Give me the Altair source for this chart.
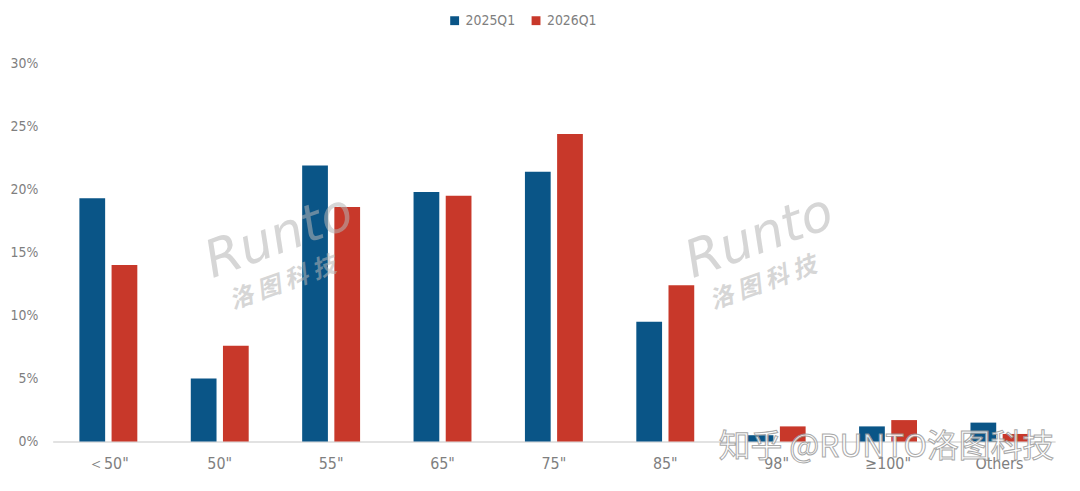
import altair as alt
import pandas as pd

categories = ["＜50\"", "50\"", "55\"", "65\"", "75\"", "85\"", "98\"", "≥100\"", "Others"]
series = ["2025Q1", "2026Q1"]
values_2025 = [19.3, 5.0, 21.9, 19.8, 21.4, 9.5, 0.5, 1.2, 1.5]
values_2026 = [14.0, 7.6, 18.6, 19.5, 24.4, 12.4, 1.2, 1.7, 0.6]
colors = ["#0A5587", "#C8382A"]
y_ticks = [0, 5, 10, 15, 20, 25, 30]

rows = []
for c, a, b in zip(categories, values_2025, values_2026):
    rows.append({"cat": c, "series": series[0], "v": a / 100})
    rows.append({"cat": c, "series": series[1], "v": b / 100})
df = pd.DataFrame(rows)

FONT = "DejaVu Sans Condensed, Roboto, sans-serif"
W, H = 1010, 381

bars = alt.Chart(df).mark_bar().encode(
    x=alt.X("cat:N", sort=categories, title=None,
            scale=alt.Scale(paddingInner=0.48, paddingOuter=0.24),
            axis=alt.Axis(labelAngle=0, labelFontSize=16, labelColor="#7f7f7f",
                          labelFont=FONT, domainColor="#d9d9d9", domainWidth=1.5,
                          ticks=False, labelPadding=14)),
    xOffset=alt.XOffset("series:N", sort=series,
                        scale=alt.Scale(paddingInner=0.2, paddingOuter=0)),
    y=alt.Y("v:Q", title=None,
            scale=alt.Scale(domain=[0, 0.30], nice=False),
            axis=alt.Axis(values=[t / 100 for t in y_ticks], format=".0%",
                          grid=False, domain=False, ticks=False,
                          labelFontSize=14, labelColor="#7f7f7f", labelFont=FONT,
                          labelPadding=15)),
    color=alt.Color("series:N", sort=series,
                    scale=alt.Scale(domain=series, range=colors),
                    legend=alt.Legend(title=None, orient="none", legendX=398, legendY=-50,
                                      direction="horizontal", symbolType="square",
                                      symbolSize=80, labelFontSize=14, labelColor="#7f7f7f",
                                      labelFont=FONT, columnPadding=14, symbolStrokeWidth=0)),
)

def wm(text, size, x, y, font, weight="normal"):
    return alt.Chart(pd.DataFrame({"t": [text]})).mark_text(
        fontSize=size, fontStyle="italic", fontWeight=weight, color="#b5b5b5",
        opacity=0.55, angle=340, font=font
    ).encode(text="t:N", x=alt.value(x), y=alt.value(y))

logo1 = wm("Runto", 52, 228, 175, "DejaVu Sans")
sub1 = wm("洛 图 科 技", 24, 232, 222, "Noto Sans CJK SC", "bold")
logo2 = wm("Runto", 52, 712, 175, "DejaVu Sans")
sub2 = wm("洛 图 科 技", 24, 716, 222, "Noto Sans CJK SC", "bold")
zhihu = alt.Chart(pd.DataFrame({"t": ["知乎 @RUNTO洛图科技"]})).mark_text(
    fontSize=32, color="#ffffff", opacity=0.85, stroke="#9a9a9a", strokeWidth=1,
    font="Noto Sans CJK SC", align="left"
).encode(text="t:N", x=alt.value(671), y=alt.value(387))

chart = alt.layer(bars, logo1, sub1, logo2, sub2, zhihu).properties(
    width=W, height=H,
    autosize=alt.AutoSizeParams(type="none"),
    padding={"left": 45, "top": 54, "right": 17, "bottom": 40},
    background="white",
).configure_view(stroke=None)

chart.save("out.html", embed_options={"renderer": "svg", "actions": False})
